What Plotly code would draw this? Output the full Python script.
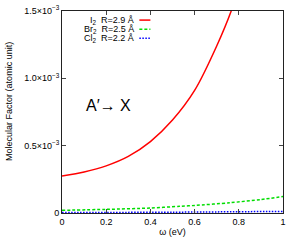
import plotly.graph_objects as go

omega_i2 = [0.0, 0.1, 0.2, 0.3, 0.4, 0.5, 0.6, 0.7, 0.77, 0.85]
mf_i2 = [0.275, 0.305, 0.35, 0.42, 0.53, 0.69, 0.91, 1.24, 1.52, 1.95]

omega_br2 = [0.0, 0.2, 0.4, 0.534, 0.6, 0.76, 0.9, 1.0]
mf_br2 = [0.020, 0.027, 0.037, 0.050, 0.056, 0.076, 0.100, 0.122]

omega_cl2 = [0.0, 0.5, 1.0]
mf_cl2 = [0.003, 0.006, 0.012]

legend_labels = ["I<sub>2</sub>  R=2.9 Å", "Br<sub>2</sub>  R=2.5 Å", "Cl<sub>2</sub>  R=2.2 Å"]
colors = ["#ff0000", "#00dd00", "#0000ff"]
dashes = ["solid", "3px,2px", "1.5px,1.5px"]

xticks = [0, 0.2, 0.4, 0.6, 0.8, 1]
xticktext = ["0", "0.2", "0.4", "0.6", "0.8", "1"]
yticks = [0, 0.5, 1.0, 1.5]
yticktext = ["0", "0.5×10<sup>−3</sup>", "1.0×10<sup>−3</sup>", "1.5×10<sup>−3</sup>"]

FONT = "Liberation Sans"
S = 1e-3
fig = go.Figure()
series = [(omega_i2, mf_i2), (omega_br2, mf_br2), (omega_cl2, mf_cl2)]
for (xs, ys), c, d, name in zip(series, colors, dashes, legend_labels):
    fig.add_trace(go.Scatter(x=xs, y=[v * S for v in ys], mode="lines", name=name,
                             line=dict(color=c, width=1.5, dash=d, shape="spline", smoothing=0.8),
                             showlegend=False, hoverinfo="skip"))

# gnuplot-style legend (text left, sample right)
for i, (name, c, d) in enumerate(zip(legend_labels, colors, dashes)):
    yp = 0.955 - i * 0.045
    fig.add_annotation(x=0.335, y=yp, xref="paper", yref="paper", text=name,
                       showarrow=False, xanchor="right", yanchor="middle",
                       font=dict(size=9, color="black", family=FONT))
    fig.add_shape(type="line", xref="paper", yref="paper", x0=0.35, x1=0.40, y0=yp, y1=yp,
                  line=dict(color=c, width=1.5, dash=d))

fig.add_annotation(x=0.10, y=0.80 * S, xref="x", yref="y", text="A′→ X", showarrow=False,
                   xanchor="left", yanchor="middle",
                   font=dict(size=16, color="black", family=FONT))

# y-axis title
fig.add_annotation(x=-53 / 221, y=0.55, xref="paper", yref="paper",
                   text="Molecular Factor (atomic unit)", textangle=-90, showarrow=False,
                   xanchor="center", yanchor="middle",
                   font=dict(size=9, color="black", family=FONT))

axis_common = dict(showline=True, linecolor="#222222", linewidth=1, mirror="ticks",
                   ticks="inside", ticklen=4, tickcolor="#444444", showgrid=False,
                   zeroline=False, automargin=False,
                   tickfont=dict(size=9, color="black", family=FONT))

fig.update_xaxes(range=[0, 1], tickvals=xticks, ticktext=xticktext,
                 title=dict(text="ω (eV)", font=dict(size=9, color="black", family=FONT),
                            standoff=2), **axis_common)
fig.update_yaxes(range=[0, 1.5 * S], tickvals=[v * S for v in yticks], ticktext=yticktext,
                 **axis_common)

fig.update_layout(width=300, height=245, margin=dict(l=62, r=17, t=11, b=32),
                  plot_bgcolor="white", paper_bgcolor="white", showlegend=False)

fig.write_html("out.html", config={"displayModeBar": False},
               post_script="document.body.style.margin='0';")
